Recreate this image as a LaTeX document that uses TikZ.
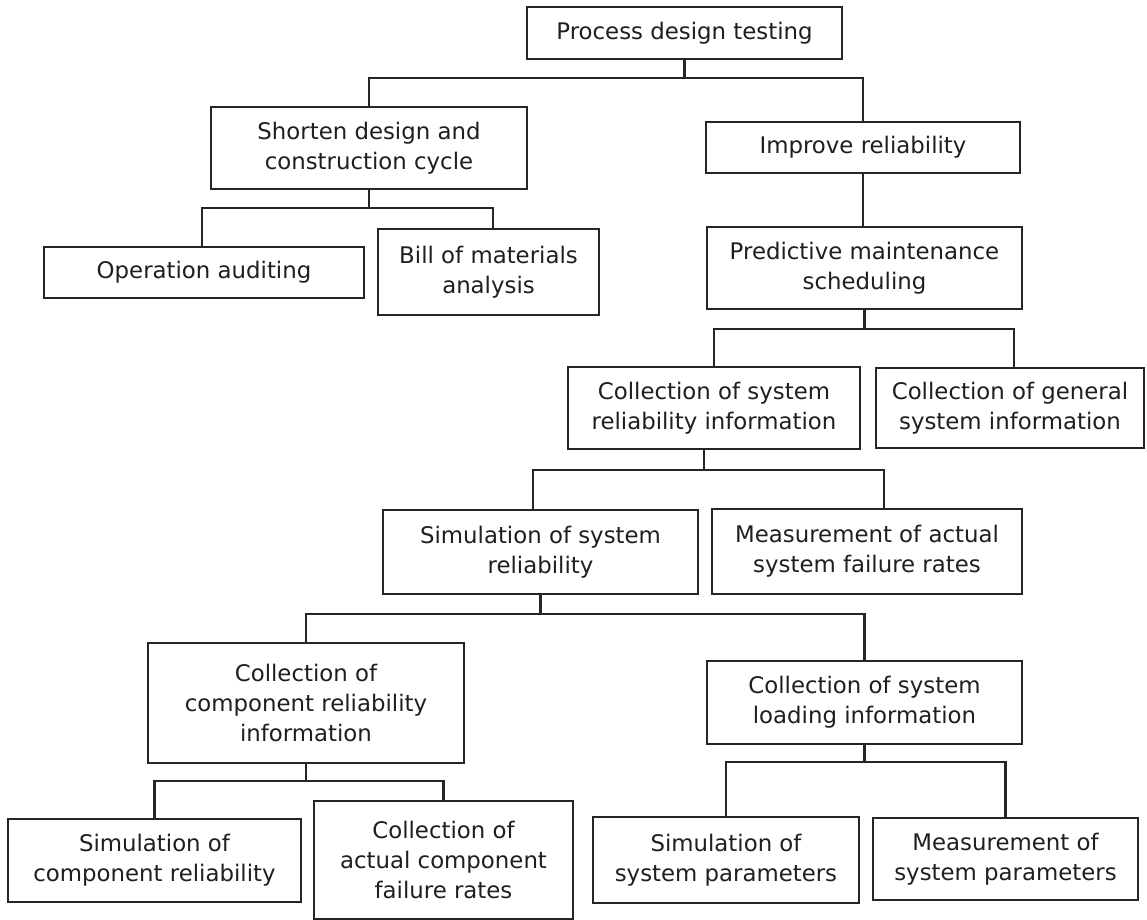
\documentclass[tikz,border=0pt]{standalone}
\usepackage{fontspec}
\setmainfont{DejaVu Sans}
\usepackage{tikz}
\usetikzlibrary{positioning,calc}

\begin{document}
\begin{tikzpicture}[
  every node/.style={font=\fontsize{13}{17}\selectfont,text=black!88},
  box/.style={draw=black!85,line width=1.4pt,align=center,inner sep=2pt},
  sz/.style 2 args={minimum width=#1cm,minimum height=#2cm},
  edge/.style={draw=black!85,line width=1.4pt}
]
\useasboundingbox[fill=white] (0,0) rectangle (22.94,-18.4);

% level 0 and 1
\node[box,sz={6.30}{1.04}] (root)       at (13.69, -0.66) {Process design testing};
\node[box,sz={6.32}{1.64}] (shorten)    at ( 7.38, -2.96) {Shorten design and\\construction cycle};
\node[box,sz={6.28}{1.02}] (improve)    at (17.26, -2.95) {Improve reliability};

% level 2
\node[box,sz={6.40}{1.02}] (opaudit)    at ( 4.08, -5.45) {Operation auditing};
\node[box,sz={4.42}{1.72}] (bill)       at ( 9.77, -5.44) {Bill of materials\\analysis};
\node[box,sz={6.30}{1.64}] (predictive) at (17.29, -5.36) {Predictive maintenance\\scheduling};

% level 3
\node[box,sz={5.84}{1.64}] (csri)       at (14.28, -8.16) {Collection of system\\reliability information};
\node[box,sz={5.36}{1.60}] (cgsi)       at (20.20, -8.16) {Collection of general\\system information};

% level 4
\node[box,sz={6.30}{1.68}] (ssr)        at (10.81,-11.04) {Simulation of system\\reliability};
\node[box,sz={6.20}{1.70}] (masfr)      at (17.34,-11.03) {Measurement of actual\\system failure rates};

% level 5
\node[box,sz={6.32}{2.40}] (ccri)       at ( 6.12,-14.06) {Collection of\\component reliability\\information};
\node[box,sz={6.30}{1.66}] (csli)       at (17.29,-14.05) {Collection of system\\loading information};

% level 6
\node[box,sz={5.86}{1.66}] (scr)        at ( 3.09,-17.21) {Simulation of\\component reliability};
\node[box,sz={5.18}{2.36}] (cacfr)      at ( 8.87,-17.20) {Collection of\\actual component\\failure rates};
\node[box,sz={5.32}{1.72}] (ssp)        at (14.52,-17.20) {Simulation of\\system parameters};
\node[box,sz={5.30}{1.64}] (msp)        at (20.11,-17.18) {Measurement of\\system parameters};

% connectors: parent/child/drop/parent shift/child shift
\foreach \p/\c/\d/\a/\s in {root/shorten/0.36/0/0, root/improve/0.36/0/0,
    shorten/opaudit/0.36/0/-0.04, shorten/bill/0.36/0/0.09,
    predictive/csri/0.38/0/0, predictive/cgsi/0.38/0/0.08,
    csri/ssr/0.40/-0.20/-0.15, csri/masfr/0.40/-0.20/0.34,
    ssr/ccri/0.38/0/0, ssr/csli/0.38/0/0,
    ccri/scr/0.34/0/0, ccri/cacfr/0.34/0/0,
    csli/ssp/0.34/0/0, csli/msp/0.34/0/0}{
  \draw[edge] ([xshift=\a cm]\p.south) -- ++(0,-\d) -| ([xshift=\s cm]\c.north);
}
\draw[edge] (improve.south) -- (improve.south |- predictive.north);
\end{tikzpicture}
\end{document}
